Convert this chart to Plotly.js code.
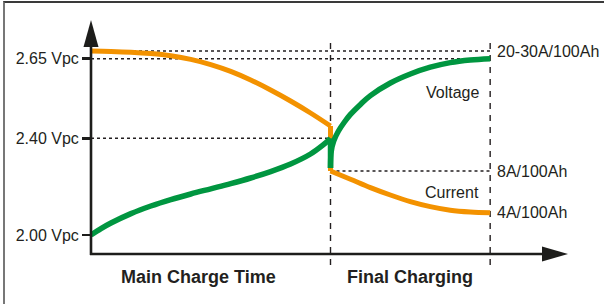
<!DOCTYPE html>
<html>
<head>
<meta charset="utf-8">
<script src="https://cdn.plot.ly/plotly-3.0.1.min.js"></script>
<style>
  html, body { margin: 0; padding: 0; background: #ffffff; }
  #frame { position: absolute; left: 3px; top: 1px; width: 601px; height: 303px;
           border-top: 2px solid #3a3a3a; border-left: 2px solid #777777; box-sizing: border-box; }
  #chart { position: absolute; left: 0; top: 0; width: 604px; height: 304px; }
</style>
</head>
<body>
<div id="frame"></div>
<div id="chart"></div>
<script>
// ---- Data (schematic charge profile; x = time units, y = level units) ----
const phaseLabels = ['Main Charge Time', 'Final Charging'];
const phaseCenters = [2.7, 8.0];
const phaseBoundary = 6;
const chargeEnd = 10;

const voltageTickLevels = [9.5, 57.85, 97.65];
const voltageTickText = ['2.00 Vpc', '2.40 Vpc', '2.65 Vpc'];

const currentLabelText = ['20-30A/100Ah', '8A/100Ah', '4A/100Ah'];

const voltageMainT = [0, 0.25, 0.5, 1, 1.5, 2, 2.5, 3, 3.5, 4, 4.5, 5, 5.5, 5.8, 6];
const voltageMain  = [9.5, 12.7, 15.5, 20.2, 24.0, 27.2, 30.0, 32.6, 35.2, 38.0, 41.2, 45.0, 50.0, 54.3, 57.8];
const voltageFinalT = [6, 6.02, 6.08, 6.2, 6.35, 6.5, 6.75, 7, 7.5, 8, 8.5, 9, 9.5, 10];
const voltageFinal  = [43, 51.5, 56.5, 61.5, 66, 69.8, 74.8, 79.2, 85.5, 90, 93.4, 95.7, 97, 97.65];

const currentMainT = [0, 0.5, 1, 1.5, 2, 2.5, 3, 3.5, 4, 4.5, 5, 5.5, 6];
const currentMain  = [101.5, 101.3, 100.9, 100.2, 99.1, 97.3, 94.7, 91.3, 87.0, 82.0, 76.5, 70.5, 64.0];
const currentFinalT = [6, 6.5, 7, 7.5, 8, 8.5, 9, 9.5, 10];
const currentFinal  = [41.5, 37.4, 33.2, 29.5, 26.2, 23.7, 21.9, 21.0, 20.6];

// ---- Styling / layout ----
const ORANGE = '#F39200', GREEN = '#009640', INK = '#231f20', AXIS = '#1d1d1b';
const FONT = 'Liberation Sans, Arial, sans-serif';
const M = {l: 91, r: 36, t: 20, b: 50};
const W = 604, H = 304;
const PW = W - M.l - M.r, PH = H - M.t - M.b;
const X_MAX = 11.95, Y_MAX = 117;
// pixel -> paper helpers for decorations only
const px = x => (x - M.l) / PW;
const py = y => (H - M.b - y) / PH;

const last = a => a[a.length - 1];

const smooth = {shape: 'spline', smoothing: 1};
const traces = [
  {x: currentMainT, y: currentMain, mode: 'lines', line: Object.assign({color: ORANGE, width: 5}, smooth), hoverinfo: 'skip'},
  {x: [last(currentMainT), currentFinalT[0]], y: [last(currentMain), currentFinal[0]], mode: 'lines', line: {color: ORANGE, width: 5}, hoverinfo: 'skip'},
  {x: currentFinalT, y: currentFinal, mode: 'lines', line: Object.assign({color: ORANGE, width: 5}, smooth), hoverinfo: 'skip'},
  {x: voltageMainT, y: voltageMain, mode: 'lines', line: Object.assign({color: GREEN, width: 5.5}, smooth), hoverinfo: 'skip'},
  {x: [last(voltageMainT), voltageFinalT[0]], y: [last(voltageMain), voltageFinal[0]], mode: 'lines', line: {color: GREEN, width: 5.5}, hoverinfo: 'skip'},
  {x: voltageFinalT, y: voltageFinal, mode: 'lines', line: Object.assign({color: GREEN, width: 5.5}, smooth), hoverinfo: 'skip'}
];

const dotted = {color: INK, width: 1.5, dash: 'dot'};
const dashed = {color: INK, width: 1.4, dash: '6px,6px'};
const shapes = [
  // dotted reference lines
  {type: 'line', xref: 'x', yref: 'y', x0: 0, x1: chargeEnd, y0: voltageTickLevels[2], y1: voltageTickLevels[2], line: dotted, layer: 'below'},
  {type: 'line', xref: 'x', yref: 'y', x0: 0, x1: chargeEnd, y0: currentMain[0], y1: currentMain[0], line: dotted, layer: 'below'},
  {type: 'line', xref: 'x', yref: 'y', x0: 0, x1: phaseBoundary, y0: voltageTickLevels[1], y1: voltageTickLevels[1], line: dotted, layer: 'below'},
  {type: 'line', xref: 'x', yref: 'y', x0: phaseBoundary, x1: chargeEnd, y0: currentFinal[0], y1: currentFinal[0], line: dotted, layer: 'below'},
  // dashed phase separators
  {type: 'line', xref: 'x', yref: 'paper', x0: phaseBoundary, x1: phaseBoundary, y0: py(265), y1: py(38), line: dashed, layer: 'below'},
  {type: 'line', xref: 'x', yref: 'paper', x0: chargeEnd, x1: chargeEnd, y0: py(265), y1: py(38), line: dashed, layer: 'below'},
  // axes
  {type: 'line', xref: 'paper', yref: 'paper', x0: 0, x1: 0, y0: py(255), y1: py(40), line: {color: AXIS, width: 2.6}},
  {type: 'line', xref: 'paper', yref: 'paper', x0: px(90), x1: px(548), y0: 0, y1: 0, line: {color: AXIS, width: 2.6}},
  // arrow heads
  {type: 'path', xref: 'paper', yref: 'paper',
   path: `M ${px(91)} ${py(20)} L ${px(83.5)} ${py(47)} L ${px(98.5)} ${py(47)} Z`,
   fillcolor: AXIS, line: {width: 0}},
  {type: 'path', xref: 'paper', yref: 'paper',
   path: `M ${px(568)} ${py(254)} L ${px(542)} ${py(246.5)} L ${px(542)} ${py(261.5)} Z`,
   fillcolor: AXIS, line: {width: 0}}
];

const annotations = [];
// right-hand current labels
const currentLabelLevels = [currentMain[0], currentFinal[0], last(currentFinal)];
currentLabelText.forEach((t, i) => annotations.push({
  xref: 'x', yref: 'y', x: chargeEnd, y: currentLabelLevels[i], text: t, showarrow: false,
  xanchor: 'left', yanchor: 'middle', xshift: 5, font: {family: FONT, size: 16, color: INK}
}));
annotations.push({xref: 'x', yref: 'y', x: 9.76, y: 81, text: 'Voltage', showarrow: false,
  xanchor: 'right', yanchor: 'middle', font: {family: FONT, size: 16, color: INK}});
annotations.push({xref: 'x', yref: 'y', x: 9.76, y: 31, text: 'Current', showarrow: false,
  xanchor: 'right', yanchor: 'middle', font: {family: FONT, size: 16, color: INK}});
phaseLabels.forEach((t, i) => annotations.push({
  xref: 'x', yref: 'paper', x: phaseCenters[i], y: 0, yshift: -23, text: '<b>' + t + '</b>', showarrow: false,
  xanchor: 'center', yanchor: 'middle', font: {family: FONT, size: 18, color: INK}
}));

const layout = {
  width: W, height: H, margin: M, showlegend: false,
  paper_bgcolor: 'rgba(0,0,0,0)', plot_bgcolor: 'rgba(0,0,0,0)',
  xaxis: {range: [0, X_MAX], showline: false, showgrid: false, zeroline: false, showticklabels: false, ticks: '', fixedrange: true},
  yaxis: {range: [0, Y_MAX], showline: false, showgrid: false, zeroline: false,
          tickmode: 'array', tickvals: voltageTickLevels, ticktext: voltageTickText,
          ticks: 'outside', ticklen: 8, tickwidth: 2.6, tickcolor: AXIS,
          tickfont: {family: FONT, size: 16, color: INK}, fixedrange: true},
  shapes: shapes, annotations: annotations
};

Plotly.newPlot('chart', traces, layout, {staticPlot: true, displayModeBar: false});
</script>
</body>
</html>
